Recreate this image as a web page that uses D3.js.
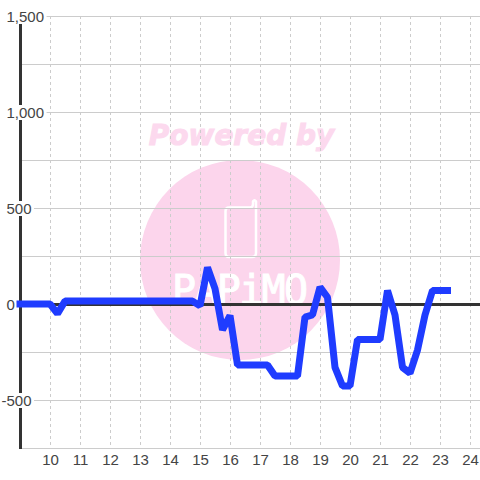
<!doctype html>
<html lang="en">
<head>
    <meta charset="UTF-8">
    <title>Line Chart</title>
    <style>
        html, body { margin: 0; padding: 0; background: #fff; }
        svg { display: block; }
        text { font-family: "Liberation Sans", sans-serif; }
    </style>
</head>
<body>
    <svg id="chart" width="480" height="480"></svg>
    <script src="https://d3js.org/d3.v7.min.js"></script>
    <script>
        // values
        const hours = [9, 10, 10.25, 10.5, 14.75, 15, 15.25, 15.5, 15.75, 16, 16.25, 17.25, 17.5, 18.25,
            18.5, 18.75, 19, 19.25, 19.5, 19.75, 20, 20.25, 21, 21.25, 21.5, 21.75, 22, 22.25, 22.5, 22.75, 23.25];
        const values = [0, 0, -50, 15, 15, -10, 190, 80, -135, -60, -318, -318, -375, -375,
            -68, -57, 88, 35, -330, -427, -427, -185, -185, 70, -57, -330, -360, -240, -57, 70, 70];
        const xTicks = [10, 11, 12, 13, 14, 15, 16, 17, 18, 19, 20, 21, 22, 23, 24];
        const yGridTicks = [1500, 1250, 1000, 750, 500, 250, -250, -500, -750];
        const yLabelTicks = [1500, 1000, 500, 0, -500];
        const watermarkTop = "Powered by";
        const watermarkBottom = "PAPiMO";

        const x = d3.scaleLinear().domain([9, 24]).range([20, 470]);
        const y = d3.scaleLinear().domain([-750, 1500]).range([448, 16]);

        const svg = d3.select("#chart");

        // watermark sits under everything
        const mark = svg.append("g");
        mark.append("circle").attr("cx", 240).attr("cy", 260).attr("r", 100).attr("fill", "#fcd5ec");
        mark.append("text")
            .attr("x", 241.5).attr("y", 145)
            .attr("text-anchor", "middle")
            .style("font-family", "'DejaVu Sans'")
            .style("font-weight", "bold")
            .style("font-style", "italic")
            .style("font-size", "28px")
            .attr("fill", "#fcd9ee")
            .attr("stroke", "#fcd9ee")
            .attr("stroke-width", 1)
            .text(watermarkTop);
        mark.append("path")
            .attr("d", "M229 207.5H250Q253 207.5 253 204V201.5Q254.5 199 256 201.5V253Q256 257 252 257H229Q225.5 257 225.5 253V211Q225.5 207.5 229 207.5Z")
            .attr("fill", "none").attr("stroke", "#fff").attr("stroke-width", 2.5);
        mark.append("text")
            .attr("x", 172).attr("y", 304)
            .attr("textLength", 136)
            .style("font-family", "'DejaVu Sans Mono'")
            .style("font-size", "40px")
            .attr("fill", "#fff")
            .attr("stroke", "#fff")
            .attr("stroke-width", 1)
            .text(watermarkBottom);

        // grid
        svg.append("g")
            .attr("class", "grid-x")
            .call(d3.axisBottom(x).tickValues(xTicks).tickSize(0).tickFormat(""))
            .attr("transform", "translate(0,16)")
            .call(g => g.select(".domain").remove())
            .selectAll(".tick line")
            .attr("y2", y(-750) - y(1500))
            .attr("stroke", "#ccc")
            .attr("stroke-dasharray", "3,3");

        svg.append("g")
            .attr("class", "grid-y")
            .attr("transform", "translate(20,0)")
            .call(d3.axisRight(y).tickValues(yGridTicks).tickSize(460).tickFormat(""))
            .call(g => g.select(".domain").remove())
            .selectAll(".tick line")
            .attr("stroke", "#ccc");

        // zero line and left axis
        svg.append("line")
            .attr("x1", x(9)).attr("x2", 480)
            .attr("y1", y(0) + 0.5).attr("y2", y(0) + 0.5)
            .attr("stroke", "#333").attr("stroke-width", 3);
        svg.append("line")
            .attr("x1", x(9) + 0.5).attr("x2", x(9) + 0.5)
            .attr("y1", y(1500)).attr("y2", y(-750) + 1)
            .attr("stroke", "#333").attr("stroke-width", 3);

        // y labels, white box behind each one, digits line up on the left
        const yLabels = svg.selectAll(".y-label")
            .data(yLabelTicks)
            .enter().append("g")
            .attr("class", "y-label")
            .attr("transform", d => `translate(0,${y(d)})`);
        yLabels.append("text")
            .attr("x", d => d < 0 ? 1.5 : 6.5)
            .attr("y", 6)
            .style("font-size", "15px")
            .attr("fill", "#444")
            .text(d => d3.format(",")(d).replace("\u2212", "-"));
        yLabels.each(function() {
            const g = d3.select(this);
            const box = g.select("text").node().getBBox();
            g.insert("rect", "text")
                .attr("x", 0)
                .attr("y", -7)
                .attr("width", box.x + box.width + 2.5)
                .attr("height", 15)
                .attr("fill", "#fff");
        });

        // x labels
        svg.append("g")
            .attr("class", "axis-bottom")
            .attr("transform", "translate(0,448)")
            .call(d3.axisBottom(x).tickValues(xTicks).tickSize(0).tickPadding(6))
            .call(g => g.select(".domain").remove())
            .selectAll("text")
            .style("font-size", "15px")
            .style("font-family", "'Liberation Sans'")
            .attr("fill", "#444");

        // series
        const line = d3.line()
            .x((d, i) => x(hours[i]))
            .y(d => y(d));
        svg.append("path")
            .datum(values)
            .attr("d", line)
            .attr("fill", "none")
            .attr("stroke", "#1f3cff")
            .attr("stroke-width", 7)
            .attr("stroke-linecap", "square")
            .attr("stroke-linejoin", "bevel");
    </script>
</body>
</html>
